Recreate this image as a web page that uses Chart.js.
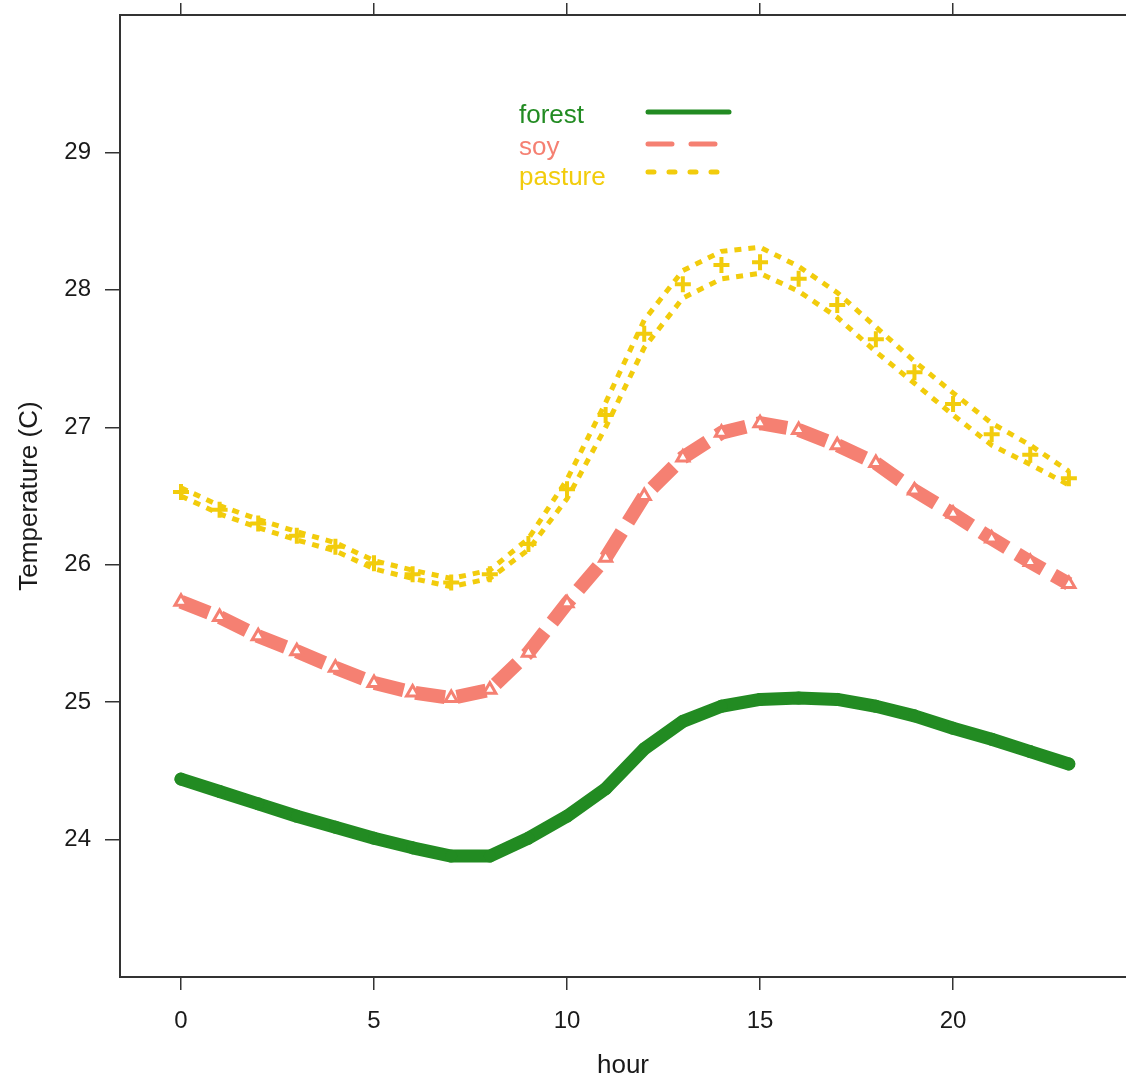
<!DOCTYPE html>
<html>
<head>
<meta charset="utf-8">
<title>Temperature by hour</title>
<script src="https://cdn.jsdelivr.net/npm/chart.js@4.4.1/dist/chart.umd.min.js"></script>
<style>
  html, body { margin: 0; padding: 0; background: #fff; overflow: hidden; }
  #wrap { width: 1126px; height: 1083px; }
</style>
</head>
<body>
<div id="wrap"><canvas id="tempChart" width="1126" height="1083"></canvas></div>
<script>
// values, one per hour
var hours = [0, 1, 2, 3, 4, 5, 6, 7, 8, 9, 10, 11, 12, 13, 14, 15, 16, 17, 18, 19, 20, 21, 22, 23];
var forestTemp = [24.44, 24.35, 24.26, 24.17, 24.09, 24.01, 23.94, 23.88, 23.88, 24.01, 24.17, 24.37,
                  24.66, 24.86, 24.97, 25.02, 25.03, 25.02, 24.97, 24.90, 24.81, 24.73, 24.64, 24.55];
var soyTemp = [25.73, 25.62, 25.48, 25.37, 25.25, 25.14, 25.07, 25.03, 25.09, 25.36, 25.72, 26.05,
               26.50, 26.78, 26.96, 27.03, 26.98, 26.87, 26.74, 26.54, 26.37, 26.19, 26.02, 25.86];
var pastureTemp = [26.53, 26.40, 26.30, 26.21, 26.13, 26.01, 25.93, 25.87, 25.93, 26.15, 26.55, 27.09,
                   27.68, 28.04, 28.18, 28.20, 28.08, 27.89, 27.64, 27.40, 27.17, 26.95, 26.80, 26.63];
// pasture is drawn as two close dotted lines
var pastureHigh = [26.56, 26.43, 26.33, 26.24, 26.16, 26.03, 25.96, 25.90, 25.96, 26.19, 26.62, 27.18,
                   27.78, 28.14, 28.28, 28.31, 28.17, 27.98, 27.73, 27.48, 27.25, 27.03, 26.87, 26.68];
var pastureLow = [26.50, 26.37, 26.27, 26.18, 26.10, 25.97, 25.90, 25.84, 25.90, 26.11, 26.48, 27.00,
                  27.58, 27.94, 28.08, 28.12, 27.99, 27.80, 27.55, 27.32, 27.09, 26.87, 26.73, 26.58];

var xTicks = [0, 5, 10, 15, 20];
var yTicks = [24, 25, 26, 27, 28, 29];
var groupNames = ['forest', 'soy', 'pasture'];

var GREEN = '#228B22';
var SALMON = '#F58072';
var GOLD = '#F2CC0C';
var FONT = '"Liberation Sans", Arial, sans-serif';

function pts(arr) {
	return hours.map(function(h, i){ return {x: h, y: arr[i]}; });
}

// legend drawn by hand: label first, then a line sample
var legendStyles = [
	{color: GREEN, dash: [], width: 5},
	{color: SALMON, dash: [24, 19], width: 5},
	{color: GOLD, dash: [6, 15], width: 5}
];
var handLegend = {
	id: 'handLegend',
	afterDraw: function(chart) {
		var ctx = chart.ctx;
		var ys = [116, 148, 178];
		var lineYs = [112, 144, 172];
		ctx.save();
		ctx.font = '26px ' + FONT;
		ctx.textBaseline = 'middle';
		ctx.textAlign = 'left';
		for (var i = 0; i < groupNames.length; i++) {
			var st = legendStyles[i];
			ctx.fillStyle = st.color;
			ctx.fillText(groupNames[i], 519, ys[i]);
			ctx.beginPath();
			ctx.strokeStyle = st.color;
			ctx.lineWidth = st.width;
			ctx.lineCap = 'round';
			ctx.setLineDash(st.dash);
			ctx.moveTo(648, lineYs[i]);
			ctx.lineTo(729, lineYs[i]);
			ctx.stroke();
		}
		ctx.restore();
	}
};

function fixTicks(list) {
	return function(scale) {
		scale.ticks = list.map(function(v){ return {value: v}; });
	};
}
// no extra room for edge labels, the panel fills the canvas
function noPad(s) {
	s.paddingTop = 0; s.paddingBottom = 0;
	s.paddingLeft = 0; s.paddingRight = 0;
}

var ctx = document.getElementById('tempChart').getContext('2d');
var chart = new Chart(ctx, {
	type: 'line',
	data: {
		datasets: [{
			label: 'pasture high',
			data: pts(pastureHigh),
			borderColor: GOLD,
			borderWidth: 5,
			borderDash: [7, 7],
			pointRadius: 0,
			tension: 0
		}, {
			label: 'pasture low',
			data: pts(pastureLow),
			borderColor: GOLD,
			borderWidth: 5,
			borderDash: [7, 7],
			pointRadius: 0,
			tension: 0
		}, {
			label: 'pasture',
			data: pts(pastureTemp),
			showLine: false,
			pointStyle: 'cross',
			pointRadius: 8,
			pointBorderWidth: 4,
			pointBorderColor: GOLD,
			pointBackgroundColor: GOLD
		}, {
			label: 'soy',
			data: pts(soyTemp),
			borderColor: SALMON,
			borderWidth: 14,
			borderDash: [30, 12],
			pointStyle: 'triangle',
			pointRadius: 7,
			pointBorderWidth: 3,
			pointBorderColor: SALMON,
			pointBackgroundColor: '#fff',
			tension: 0
		}, {
			label: 'forest',
			data: pts(forestTemp),
			borderColor: GREEN,
			borderWidth: 13,
			borderCapStyle: 'round',
			borderJoinStyle: 'round',
			pointRadius: 6,
			pointBorderWidth: 1,
			pointBorderColor: GREEN,
			pointBackgroundColor: GREEN,
			tension: 0
		}]
	},
	options: {
		responsive: false,
		animation: false,
		layout: { padding: 0, autoPadding: false },
		plugins: {
			legend: { display: false },
			tooltip: { enabled: false }
		},
		scales: {
			x: {
				type: 'linear',
				position: 'bottom',
				min: -1.58,
				max: 24.48,
				afterBuildTicks: fixTicks(xTicks),
				afterFit: function(s){ noPad(s); s.height = 106; },
				grid: { drawOnChartArea: false, tickLength: 13, color: '#333', lineWidth: 1.5 },
				border: { color: '#333', width: 2 },
				ticks: { color: '#1a1a1a', font: { size: 24, family: FONT }, padding: 17, maxRotation: 0 },
				title: { display: true, text: 'hour', color: '#1a1a1a', font: { size: 26, family: FONT }, padding: { top: 0, bottom: 2 } }
			},
			xTop: {
				type: 'linear',
				position: 'top',
				min: -1.58,
				max: 24.48,
				afterBuildTicks: fixTicks(xTicks),
				afterFit: function(s){ noPad(s); s.height = 15; },
				grid: { drawOnChartArea: false, tickLength: 12, color: '#333', lineWidth: 1.5 },
				border: { color: '#333', width: 2 },
				ticks: { callback: function(){ return ''; } }
			},
			y: {
				type: 'linear',
				position: 'left',
				min: 23,
				max: 30,
				afterBuildTicks: fixTicks(yTicks),
				afterFit: function(s){ noPad(s); s.width = 120; },
				grid: { drawOnChartArea: false, tickLength: 15, color: '#333', lineWidth: 1.5 },
				border: { color: '#333', width: 2 },
				ticks: { color: '#1a1a1a', font: { size: 24, family: FONT }, padding: 14 },
				title: { display: true, text: 'Temperature (C)', color: '#1a1a1a', font: { size: 26, family: FONT }, padding: { top: 14, bottom: 0 } }
			}
		}
	},
	plugins: [handLegend]
});
</script>
</body>
</html>
